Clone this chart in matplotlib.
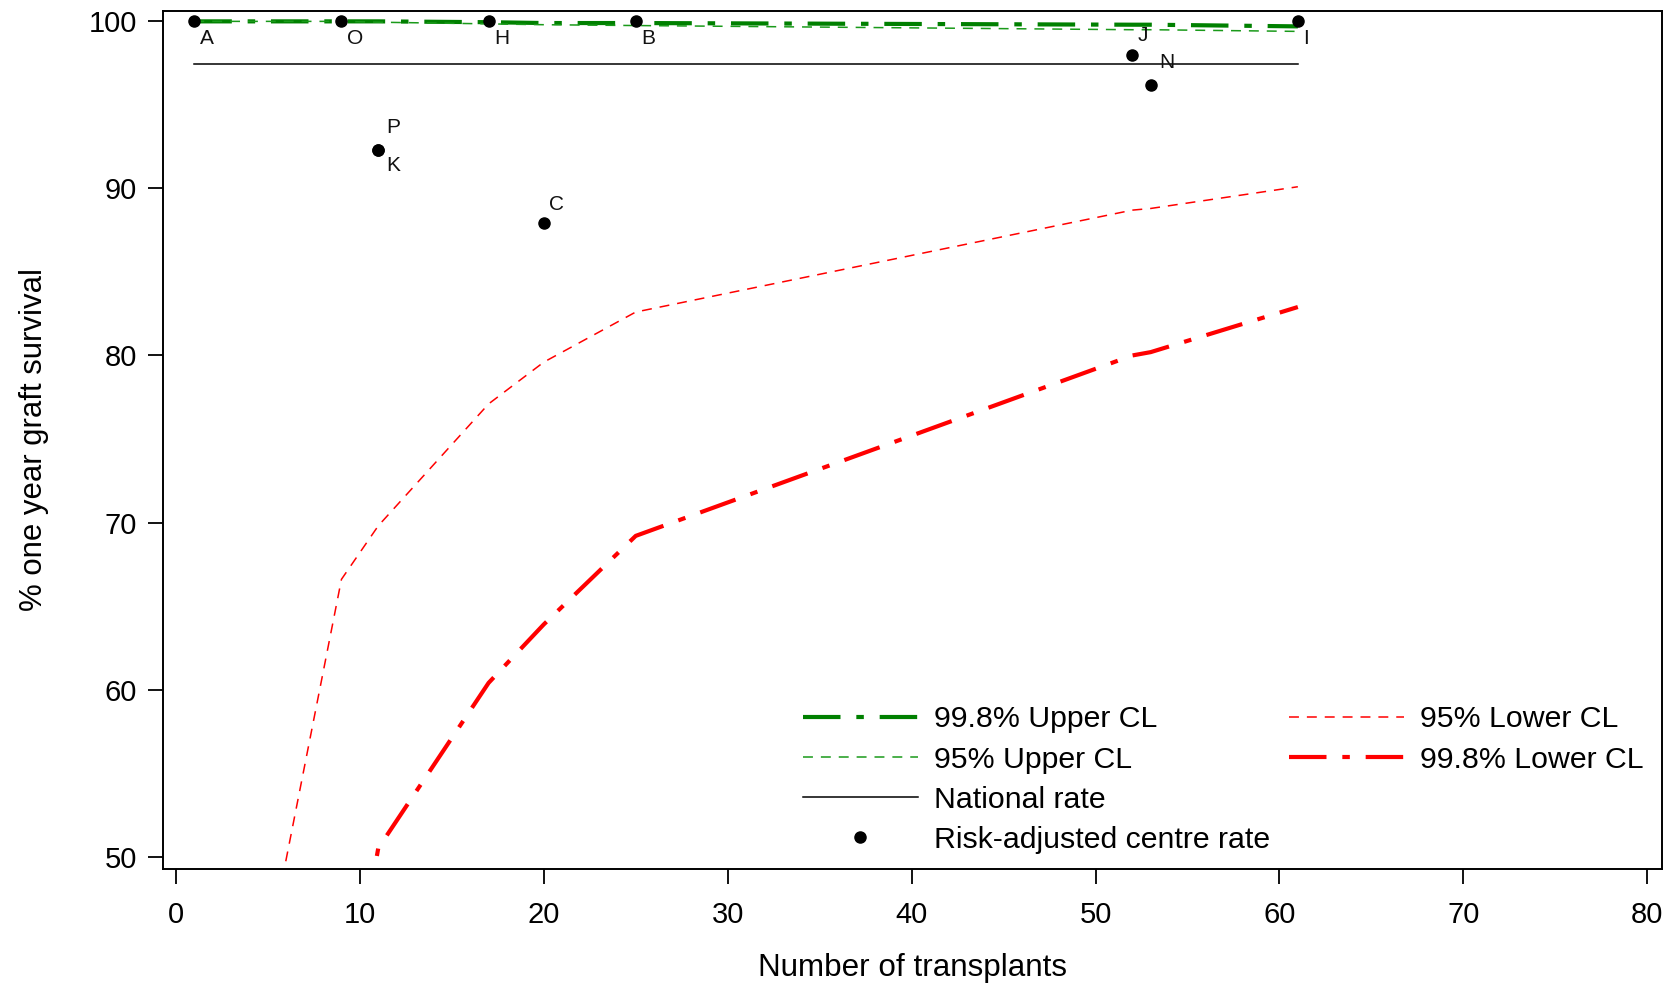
import matplotlib
matplotlib.use("Agg")
import matplotlib.pyplot as plt
from matplotlib.lines import Line2D

plt.rcParams['font.family'] = ['Liberation Sans', 'DejaVu Sans']

# centre results
centres = ['A', 'O', 'P', 'K', 'H', 'C', 'B', 'J', 'N', 'I']
n_tx = [1, 9, 11, 11, 17, 20, 25, 52, 53, 61]
rate = [100, 100, 92.3, 92.3, 100, 87.9, 100, 98.0, 96.2, 100]

# funnel limits, evaluated at the centre sizes
cl_n = [1, 9, 11, 17, 20, 25, 52, 53, 61]
upper998 = [100, 100, 100, 99.95, 99.9, 99.9, 99.8, 99.8, 99.7]
upper95 = [100, 100, 99.95, 99.85, 99.8, 99.75, 99.5, 99.5, 99.4]
lower95 = [22, 66.6, 69.8, 77.1, 79.6, 82.6, 88.7, 88.8, 90.1]
lower998 = [5, 38, 50.5, 60.4, 63.9, 69.2, 80.0, 80.2, 82.9]
national = 97.43

# where each centre label sits relative to its dot (points)
offs = {'br': (4, -12.5), 'ur': (4, 14), 'r_low': (6, -11.5), 'r_up': (6, 16)}
label_pos = {'A': 'br', 'O': 'br', 'P': 'r_up', 'K': 'r_low', 'H': 'br',
             'C': 'ur', 'B': 'br', 'J': 'ur', 'N': 'r_up', 'I': 'br'}

GREEN = '#008000'
RED = '#ff0000'
DASHDOT = (9, 3.8, 1.8, 3.8)

fig = plt.figure(figsize=(16.81, 9.83), dpi=100)
ax = fig.add_axes([0.097, 0.116, 0.8917, 0.8728])

l1, = ax.plot(cl_n, upper998, color=GREEN, lw=3, dashes=DASHDOT)
l2, = ax.plot(cl_n, upper95, color='#1a9a1a', lw=1.1, dashes=(6.5, 5.2))
l3, = ax.plot([cl_n[0], cl_n[-1]], [national, national], color='black', lw=1.1)
l5, = ax.plot(cl_n, lower95, color=RED, lw=1.1, dashes=(6.5, 5.2))
l6, = ax.plot(cl_n, lower998, color=RED, lw=3, dashes=DASHDOT)
l4, = ax.plot(n_tx, rate, 'o', color='black', ms=8, zorder=5, linestyle='none')

for c, x, y in zip(centres, n_tx, rate):
    dx, dy = offs[label_pos[c]]
    ax.annotate(c, (x, y), xytext=(dx, dy), textcoords='offset points',
                ha='left', va='center', fontsize=15, color='#111111')

ax.set_xlim(-0.7, 80.8)
ax.set_ylim(49.26, 100.62)
ax.set_xticks(range(0, 81, 10))
ax.set_yticks(range(50, 101, 10))
ax.tick_params(labelsize=21, length=11, width=1.3, pad=8)
ax.tick_params(axis='x', pad=12)
for s in ax.spines.values():
    s.set_linewidth(1.4)

ax.set_xlabel('Number of transplants', fontsize=22.6, labelpad=17)
ax.set_ylabel('% one year graft survival', fontsize=22.4, labelpad=28)

blank = Line2D([], [], alpha=0)
handles = [l1, l2, l3, l4, l5, l6, blank, blank]
labels = ['99.8% Upper CL', '95% Upper CL', 'National rate',
          'Risk-adjusted centre rate', '95% Lower CL', '99.8% Lower CL', ' ', ' ']
ax.legend(handles, labels, ncol=2, loc='lower right',
          bbox_to_anchor=(0.998, 0.0), frameon=False, fontsize=21.8,
          handlelength=3.8, handletextpad=0.55, columnspacing=0.6,
          labelspacing=0.4, borderpad=0)

fig.savefig('out.png', dpi=100)
